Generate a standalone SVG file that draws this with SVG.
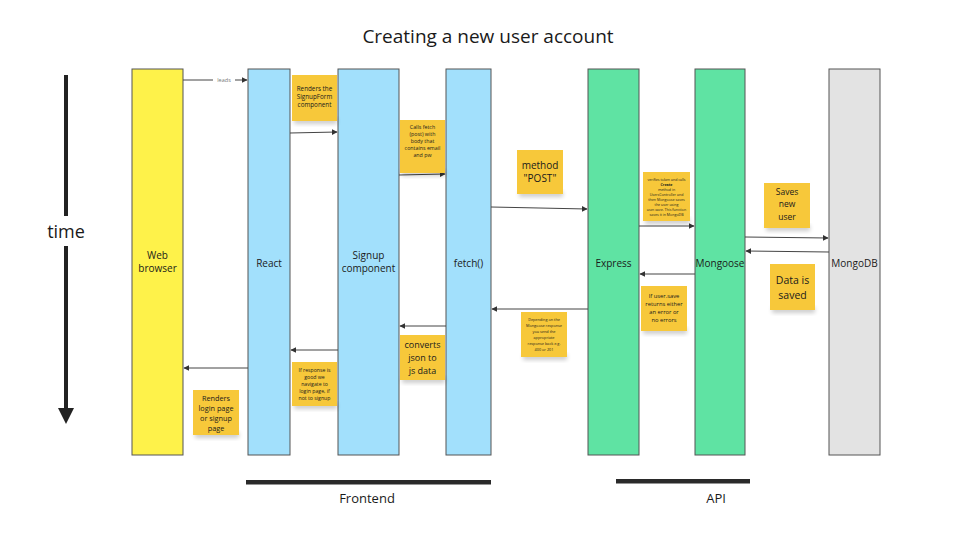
<svg xmlns="http://www.w3.org/2000/svg" width="978" height="548" viewBox="0 0 978 548">
<style>
text{font-family:"Open Sans","Liberation Sans",sans-serif;fill:#1a1a1a;text-anchor:middle}
.lane{stroke:#555;stroke-width:1}
.yel{fill:#FEF24A}
.blue{fill:#A2E0FC}
.green{fill:#5FE3A3}
.grey{fill:#E3E3E3}
.note{fill:#F7C83A}
.sh{fill:#000;opacity:0.2;filter:url(#blur)}
.lbl{font-size:10px}
.msg{stroke:#444;stroke-width:1;fill:none;marker-end:url(#ah)}
</style>
<defs>
<marker id="ah" viewBox="0 0 10 10" refX="9" refY="5" markerWidth="6" markerHeight="6" orient="auto-start-reverse" markerUnits="userSpaceOnUse">
<path d="M0,0 L10,5 L0,10 z" fill="#333"/>
</marker>
<filter id="blur" x="-20%" y="-20%" width="140%" height="160%"><feGaussianBlur stdDeviation="2"/></filter>
</defs>
<rect width="978" height="548" fill="#fff"/>
<text x="488" y="43" font-size="19">Creating a new user account</text>

<g id="time-axis">
<line x1="66" y1="75" x2="66" y2="216" stroke="#222" stroke-width="4"/>
<line x1="66" y1="246" x2="66" y2="412" stroke="#222" stroke-width="4"/>
<path d="M58,408 L74,408 L66,424 z" fill="#222"/>
<text x="66" y="238" font-size="18">time</text>
</g>

<g id="web-browser"><rect class="lane yel" x="132" y="69" width="51" height="386"/><text class="lbl" x="157.5" y="259">Web</text><text class="lbl" x="157.5" y="272">browser</text></g>
<g id="react"><rect class="lane blue" x="248" y="69" width="42" height="386"/><text class="lbl" x="269" y="267">React</text></g>
<g id="signup-component"><rect class="lane blue" x="338" y="69" width="61" height="386"/><text class="lbl" x="368.5" y="259">Signup</text><text class="lbl" x="368.5" y="272">component</text></g>
<g id="fetch"><rect class="lane blue" x="446" y="69" width="45" height="386"/><text class="lbl" x="468.5" y="267">fetch()</text></g>
<g id="express"><rect class="lane green" x="588" y="69" width="51" height="386"/><text class="lbl" x="613.5" y="267">Express</text></g>
<g id="mongoose"><rect class="lane green" x="695" y="69" width="50" height="386"/><text class="lbl" x="720" y="267">Mongoose</text></g>
<g id="mongodb"><rect class="lane grey" x="829" y="69" width="51" height="386"/><text class="lbl" x="854.5" y="267">MongoDB</text></g>

<g id="connectors">
<line class="msg" x1="183" y1="80" x2="247" y2="80"/>
<rect x="213" y="76" width="22" height="8" fill="#fff"/>
<text x="224" y="82" font-size="5.5" style="fill:#777">leads</text>
<line class="msg" x1="290" y1="133" x2="337" y2="132"/>
<line class="msg" x1="399" y1="175" x2="445" y2="174"/>
<line class="msg" x1="491" y1="207" x2="587" y2="209"/>
<line class="msg" x1="639" y1="226" x2="694" y2="226"/>
<line class="msg" x1="745" y1="237" x2="828" y2="238"/>
<line class="msg" x1="829" y1="252" x2="746" y2="251"/>
<line class="msg" x1="695" y1="274" x2="640" y2="274"/>
<line class="msg" x1="588" y1="309" x2="492" y2="309"/>
<line class="msg" x1="446" y1="326" x2="400" y2="326"/>
<line class="msg" x1="338" y1="350" x2="291" y2="350"/>
<line class="msg" x1="248" y1="368" x2="184" y2="368"/>
</g>

<g id="note-renders-signupform"><rect class="sh" x="294" y="118" width="43" height="6"/><rect class="note" x="292" y="75" width="45" height="46"/>
<text font-size="6.3"><tspan x="314.5" y="91">Renders the</tspan><tspan x="314.5" y="99">SignupForm</tspan><tspan x="314.5" y="107">component</tspan></text></g>

<g id="note-calls-fetch"><rect class="sh" x="402" y="170" width="43" height="6"/><rect class="note" x="400" y="120" width="45" height="53"/>
<text font-size="5.3"><tspan x="422.5" y="129">Calls fetch</tspan><tspan x="422.5" y="136">(post) with</tspan><tspan x="422.5" y="143">body that</tspan><tspan x="422.5" y="150">contains email</tspan><tspan x="422.5" y="157">and pw</tspan></text></g>

<g id="note-method-post"><rect class="sh" x="519" y="191" width="44" height="6"/><rect class="note" x="517" y="150" width="46" height="44"/>
<text font-size="10"><tspan x="540" y="169">method</tspan><tspan x="540" y="182">"POST"</tspan></text></g>

<g id="note-express"><rect class="sh" x="645" y="218" width="45" height="6"/><rect class="note" x="643" y="172" width="47" height="49"/>
<text font-size="3.6"><tspan x="666.5" y="181">verifies token and calls</tspan><tspan x="666.5" y="186" font-weight="bold">Create</tspan><tspan x="666.5" y="191">method in</tspan><tspan x="666.5" y="196">UsersController and</tspan><tspan x="666.5" y="201">then Mongoose saves</tspan><tspan x="666.5" y="206">the user using</tspan><tspan x="666.5" y="211">user.save. This function</tspan><tspan x="666.5" y="216">saves it in MongoDB</tspan></text></g>

<g id="note-saves-new-user"><rect class="sh" x="766" y="225" width="44" height="6"/><rect class="note" x="764" y="183" width="46" height="45"/>
<text font-size="8.5"><tspan x="787" y="195">Saves</tspan><tspan x="787" y="207">new</tspan><tspan x="787" y="220">user</tspan></text></g>

<g id="note-data-saved"><rect class="sh" x="772" y="307" width="43" height="6"/><rect class="note" x="770" y="264" width="45" height="46"/>
<text font-size="10.5"><tspan x="792.5" y="284">Data is</tspan><tspan x="792.5" y="299">saved</tspan></text></g>

<g id="note-user-save"><rect class="sh" x="643" y="328" width="44" height="6"/><rect class="note" x="641" y="286" width="46" height="45"/>
<text font-size="5.8"><tspan x="664" y="298">If user.save</tspan><tspan x="664" y="306">returns either</tspan><tspan x="664" y="314">an error or</tspan><tspan x="664" y="322">no errors</tspan></text></g>

<g id="note-depending"><rect class="sh" x="523" y="354" width="44" height="6"/><rect class="note" x="521" y="312" width="46" height="45"/>
<text font-size="3.8"><tspan x="544" y="321">Depending on the</tspan><tspan x="544" y="327">Mongoose response</tspan><tspan x="544" y="333">you send the</tspan><tspan x="544" y="339">appropriate</tspan><tspan x="544" y="345">response back e.g.</tspan><tspan x="544" y="351">400 or 201</tspan></text></g>

<g id="note-converts-json"><rect class="sh" x="402" y="377" width="43" height="6"/><rect class="note" x="400" y="335" width="45" height="45"/>
<text font-size="9"><tspan x="422.5" y="348">converts</tspan><tspan x="422.5" y="361">json to</tspan><tspan x="422.5" y="374">js data</tspan></text></g>

<g id="note-response-good"><rect class="sh" x="294" y="403" width="43" height="6"/><rect class="note" x="292" y="362" width="45" height="44"/>
<text font-size="5.2"><tspan x="314.5" y="372">If response is</tspan><tspan x="314.5" y="379">good we</tspan><tspan x="314.5" y="386">navigate to</tspan><tspan x="314.5" y="393">login page, if</tspan><tspan x="314.5" y="400">not to signup</tspan></text></g>

<g id="note-renders-login"><rect class="sh" x="195" y="432" width="44" height="6"/><rect class="note" x="193" y="390" width="46" height="45"/>
<text font-size="7.3"><tspan x="216" y="401">Renders</tspan><tspan x="216" y="411">login page</tspan><tspan x="216" y="421">or signup</tspan><tspan x="216" y="431">page</tspan></text></g>

<g id="group-frontend"><rect x="246" y="480" width="245" height="4.5" fill="#2a2a2a"/><text x="367" y="503" font-size="13">Frontend</text></g>
<g id="group-api"><rect x="616" y="479" width="134" height="4.5" fill="#2a2a2a"/><text x="716" y="503" font-size="13">API</text></g>
</svg>
